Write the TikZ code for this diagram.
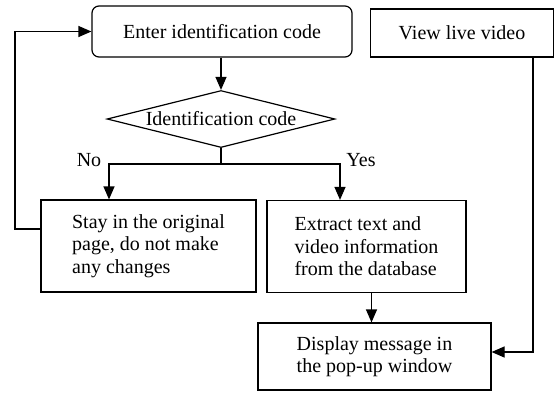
\documentclass[tikz,border=0pt]{standalone}
\usepackage{fontspec}
\setmainfont{Liberation Serif}
\usetikzlibrary{shapes.geometric,arrows.meta}
\begin{document}
\begin{tikzpicture}[x=1pt,y=-1pt]
		\tikzstyle{every node}=[font=\fontsize{20}{22.5}\selectfont]
		\tikzstyle{box}=[draw,line width=1.2pt,inner sep=0pt]
		\tikzstyle{link}=[line width=1.2pt]
		\tikzstyle{arrow}=[line width=1.2pt,-{Triangle[length=13pt,width=11pt]}]
		\useasboundingbox (0,0) rectangle (555,392);
		\node[box,rounded corners=7pt,minimum width=260,minimum height=51] (enter) at (222,31.5) {Enter identification code};
		\node[box,minimum width=183,minimum height=48] (view) at (462,33) {View live video};
		\node[box,diamond,aspect=4,minimum width=228,minimum height=57] (check) at (221,119) {Identification code};
		\node[box,minimum width=215,minimum height=92,align=left] (stay) at (148.5,246) {Stay in the original\\page, do not make\\any changes};
		\node[box,minimum width=199,minimum height=92,align=left] (extract) at (366.5,246.5) {Extract text and\\video information\\from the database};
		\node[box,minimum width=233,minimum height=67,align=center] (display) at (374.5,356.5) {Display message in\\the pop-up window};
		\coordinate (split) at (221,164);
		\coordinate (noturn) at (109,164);
		\coordinate (yesturn) at (340,164);
		\coordinate (loopbottom) at (15,229);
		\coordinate (looptop) at (15,31.5);
		\coordinate (viewturn) at (533,352);
		\node (nolabel) at (89,160) {No};
		\node (yeslabel) at (361,160) {Yes};
		\draw[arrow] (check.north |- enter.south) -- (check.north);
		\draw[link] (check.south) -- (split);
		\draw[arrow] (split) -- (noturn) -- (noturn |- stay.north);
		\draw[arrow] (split) -- (yesturn) -- (yesturn |- extract.north);
		\draw[arrow] (loopbottom -| stay.west) -- (loopbottom) -- (looptop) -- (enter.west);
		\draw[arrow] ([xshift=5pt]extract.south) -- ([xshift=5pt]extract.south |- display.north);
		\draw[arrow] (view.south -| viewturn) -- (viewturn) -- (viewturn -| display.east);
\end{tikzpicture}
\end{document}
